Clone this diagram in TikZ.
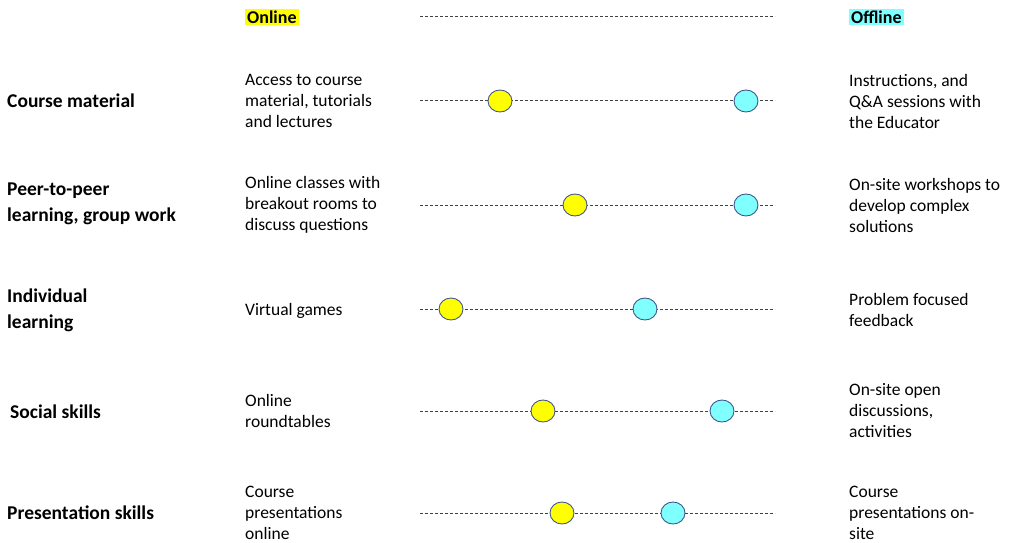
\documentclass[tikz,border=0pt]{standalone}
\usepackage{fontspec}
\setmainfont{Carlito}
\usetikzlibrary{shapes.geometric}
\definecolor{ylw}{HTML}{FFFF00}
\definecolor{cyn}{HTML}{80FFFF}
\definecolor{edge}{HTML}{41588F}
\tikzset{
  txt/.style={anchor=west, align=left, inner sep=0pt, font=\fontsize{17.5}{21}\selectfont},
  cat/.style={anchor=west, align=left, inner sep=0pt, font=\fontsize{19.5}{26}\selectfont\bfseries},
  hdr/.style={anchor=west, inner sep=2pt, font=\fontsize{18}{20}\selectfont\bfseries},
  track/.style={draw=black!75, line width=1pt, dash pattern=on 3pt off 2pt},
  dot/.style={ellipse, draw=edge, line width=0.9pt, minimum width=24pt, minimum height=22pt, inner sep=0pt},
  on/.style={dot, fill=ylw},
  off/.style={dot, fill=cyn}
}
\begin{document}
\begin{tikzpicture}[x=1pt,y=-1pt]
\useasboundingbox (0,0) rectangle (1010,543);
% headers
\node[hdr, fill=ylw] (hon) at (245,17) {Online};
\node[hdr, fill=cyn] (hoff) at (849,17) {Offline};
\coordinate (t0a) at (420,17); \coordinate (t0b) at (775,17);
\draw[track] (t0a) -- (t0b);
% row 1
\node[cat] (c1) at (7,101) {Course material};
\node[txt] (o1) at (245,101) {Access to course\\material, tutorials\\and lectures};
\node[txt] (f1) at (849,101) {Instructions, and\\Q\&A sessions with\\the Educator};
\coordinate (l1a) at (420,101); \coordinate (l1b) at (775,101);
\draw[track] (l1a) -- (l1b);
\node[on] (y1) at (500,101) {};
\node[off] (b1) at (746,101) {};
% row 2
\node[cat] (c2) at (7,204) {Peer-to-peer\\learning, group work};
\node[txt] (o2) at (245,205) {Online classes with\\breakout rooms to\\discuss questions};
\node[txt] (f2) at (849,205) {On-site workshops to\\develop complex\\solutions};
\coordinate (l2a) at (420,205); \coordinate (l2b) at (775,205);
\draw[track] (l2a) -- (l2b);
\node[on] (y2) at (575,205) {};
\node[off] (b2) at (746,205) {};
% row 3
\node[cat] (c3) at (7,310) {Individual\\learning};
\node[txt] (o3) at (245,311) {Virtual games};
\node[txt] (f3) at (849,310) {Problem focused\\feedback};
\coordinate (l3a) at (420,309); \coordinate (l3b) at (775,309);
\draw[track] (l3a) -- (l3b);
\node[on] (y3) at (451,309) {};
\node[off] (b3) at (645,309) {};
% row 4
\node[cat] (c4) at (10,412) {Social skills};
\node[txt] (o4) at (245,411) {Online\\roundtables};
\node[txt] (f4) at (849,411) {On-site open\\discussions,\\activities};
\coordinate (l4a) at (420,411); \coordinate (l4b) at (775,411);
\draw[track] (l4a) -- (l4b);
\node[on] (y4) at (543,411) {};
\node[off] (b4) at (722,411) {};
% row 5
\node[cat] (c5) at (7,513) {Presentation skills};
\node[txt] (o5) at (245,513) {Course\\presentations\\online};
\node[txt] (f5) at (849,513) {Course\\presentations on-\\site};
\coordinate (l5a) at (420,513); \coordinate (l5b) at (775,513);
\draw[track] (l5a) -- (l5b);
\node[on] (y5) at (562,513) {};
\node[off] (b5) at (673,513) {};
\end{tikzpicture}
\end{document}
